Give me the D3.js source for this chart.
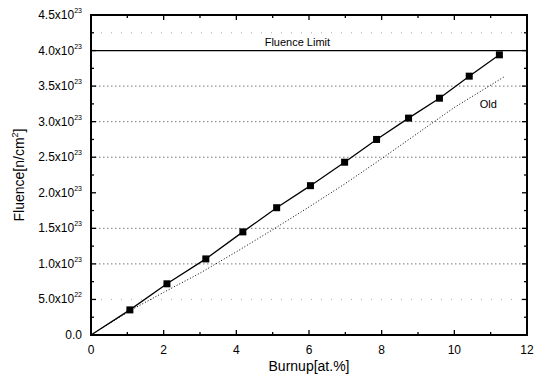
<!DOCTYPE html>
<html><head><meta charset="utf-8">
<script src="https://cdn.jsdelivr.net/npm/d3@7"></script>
<style>body{margin:0;background:#fff}svg{display:block}text{font-family:"Liberation Sans",Arial,sans-serif;fill:#000}</style>
</head><body><svg id="c" width="546" height="384"></svg>
<script>
const burnup = [1.07, 2.09, 3.16, 4.18, 5.11, 6.04, 6.98, 7.86, 8.74, 9.59, 10.41, 11.24];
const fluence = [0.353e23, 0.72e23, 1.07e23, 1.45e23, 1.79e23, 2.10e23, 2.43e23, 2.75e23, 3.05e23, 3.33e23, 3.64e23, 3.94e23];
const oldBurnup = [0, 1.1, 2, 3, 4, 5, 6, 7, 8, 9, 10, 11.4];
const oldFluence = [0, 0.35e23, 0.6e23, 0.87e23, 1.17e23, 1.48e23, 1.80e23, 2.13e23, 2.48e23, 2.84e23, 3.2e23, 3.64e23];
const fluenceLimit = 4.0e23;
const xTicks = [0, 2, 4, 6, 8, 10, 12];
const xMinor = [1, 3, 5, 7, 9, 11];
const yTicks = [0, 0.5e23, 1.0e23, 1.5e23, 2.0e23, 2.5e23, 3.0e23, 3.5e23, 4.0e23, 4.5e23];
const yMinor = [0.25e23, 0.75e23, 1.25e23, 1.75e23, 2.25e23, 2.75e23, 3.25e23, 3.75e23, 4.25e23];
const gridLines = [1.0e23, 1.5e23, 2.5e23, 3.0e23, 3.5e23];
const faintGrid = [0.5e23, 4.25e23];

const svg = d3.select("#c");
const L = 91, R = 527, T = 15, B = 335;
const x = d3.scaleLinear().domain([0, 12]).range([L, R]);
const y = d3.scaleLinear().domain([0, 4.5e23]).range([B, T]);

// grid
svg.append("g").selectAll("line").data(gridLines).join("line")
  .attr("x1", L).attr("x2", R).attr("y1", d => y(d)).attr("y2", d => y(d))
  .attr("stroke", "#777").attr("stroke-width", 1).attr("stroke-dasharray", "1.5,2.5");
svg.append("g").selectAll("line").data(faintGrid).join("line")
  .attr("x1", L).attr("x2", R).attr("y1", d => y(d)).attr("y2", d => y(d))
  .attr("stroke", "#aaa").attr("stroke-width", 1).attr("stroke-dasharray", "1,9");

// fluence limit
svg.append("line").attr("x1", x(0)).attr("x2", x(12)).attr("y1", y(fluenceLimit)).attr("y2", y(fluenceLimit))
  .attr("stroke", "#000").attr("stroke-width", 1.3);
svg.append("text").attr("x", x(5.68)).attr("y", y(fluenceLimit) - 5).attr("text-anchor", "middle")
  .attr("font-size", 11).text("Fluence Limit");

// old line
const lineGen = d3.line().x(d => x(d[0])).y(d => y(d[1]));
svg.append("path").datum(oldBurnup.map((b, i) => [b, oldFluence[i]])).attr("d", lineGen)
  .attr("fill", "none").attr("stroke", "#000").attr("stroke-width", 1).attr("stroke-dasharray", "1,2");
svg.append("text").attr("x", x(10.7)).attr("y", y(3.19e23)).attr("font-size", 11).text("Old");

// new line
const pts = [[0, 0]].concat(burnup.map((b, i) => [b, fluence[i]]));
svg.append("path").datum(pts).attr("d", lineGen)
  .attr("fill", "none").attr("stroke", "#000").attr("stroke-width", 1.3);
svg.append("g").selectAll("rect").data(burnup).join("rect")
  .attr("x", (d) => x(d) - 3.5).attr("y", (d, i) => y(fluence[i]) - 3.5)
  .attr("width", 7).attr("height", 7).attr("fill", "#000");

// axes (ticks inward)
const g = svg.append("g");
function ticksX(vals, len) {
  vals.forEach(v => {
    g.append("line").attr("x1", x(v)).attr("x2", x(v)).attr("y1", B).attr("y2", B - len).attr("stroke", "#000").attr("stroke-width", 1.3);
    g.append("line").attr("x1", x(v)).attr("x2", x(v)).attr("y1", T).attr("y2", T + len).attr("stroke", "#000").attr("stroke-width", 1.3);
  });
}
function ticksY(vals, len) {
  vals.forEach(v => {
    g.append("line").attr("y1", y(v)).attr("y2", y(v)).attr("x1", L).attr("x2", L + len).attr("stroke", "#000").attr("stroke-width", 1.3);
    g.append("line").attr("y1", y(v)).attr("y2", y(v)).attr("x1", R).attr("x2", R - len).attr("stroke", "#000").attr("stroke-width", 1.3);
  });
}
ticksX(xTicks, 5); ticksX(xMinor, 3);
ticksY(yTicks, 5); ticksY(yMinor, 3);
g.append("rect").attr("x", L).attr("y", T).attr("width", R - L).attr("height", B - T)
  .attr("fill", "none").attr("stroke", "#000").attr("stroke-width", 2);

// tick labels
svg.append("g").selectAll("text").data(xTicks).join("text")
  .attr("x", d => x(d)).attr("y", B + 19).attr("text-anchor", "middle").attr("font-size", 12).text(d => d);
const yl = svg.append("g").selectAll("text").data(yTicks).join("text")
  .attr("x", 82).attr("y", d => y(d) + 4).attr("text-anchor", "end").attr("font-size", 12);
yl.each(function(d) {
  const t = d3.select(this);
  if (d === 0) { t.text("0.0"); return; }
  const e = Math.floor(Math.log10(d) + 1e-9);
  const m = (d / Math.pow(10, e)).toFixed(1);
  t.append("tspan").text(m + "x10");
  t.append("tspan").attr("dy", -6).attr("font-size", 7).text(e);
});

// axis titles
svg.append("text").attr("x", (L + R) / 2).attr("y", 371).attr("text-anchor", "middle").attr("font-size", 14).text("Burnup[at.%]");
const yt = svg.append("text").attr("transform", "translate(24," + ((T + B) / 2) + ") rotate(-90)")
  .attr("text-anchor", "middle").attr("font-size", 14);
yt.append("tspan").text("Fluence[n/cm");
yt.append("tspan").attr("dy", -6).attr("font-size", 9).text("2");
yt.append("tspan").attr("dy", 6).text("]");
</script></body></html>
